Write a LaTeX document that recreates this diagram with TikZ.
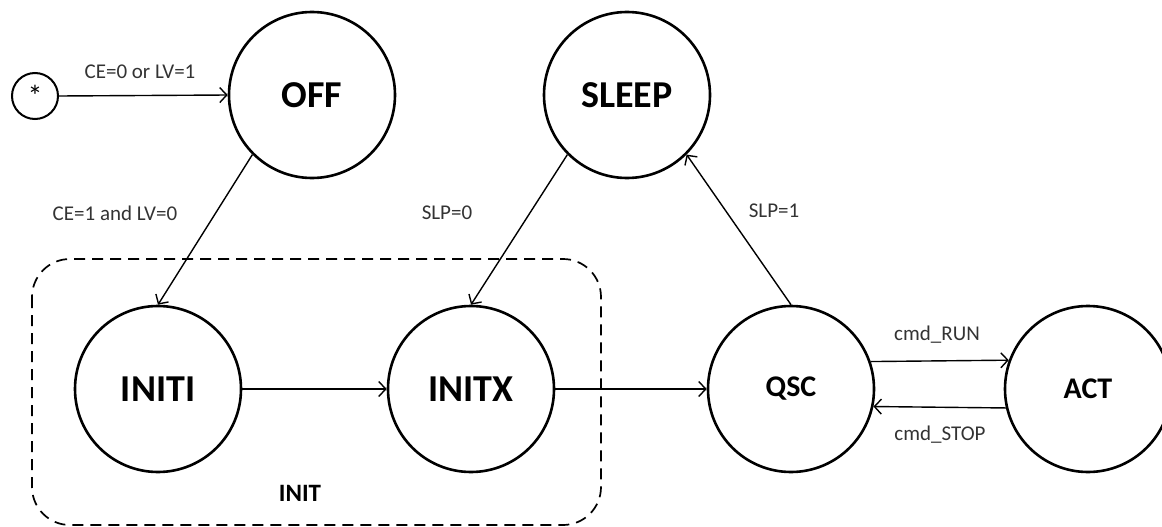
\documentclass[tikz,border=0pt]{standalone}
\usepackage{fontspec}
\setmainfont{Carlito}
\usetikzlibrary{arrows.meta}
\begin{document}
\begin{tikzpicture}[x=1pt,y=-1pt,
  state/.style={circle,draw=black,line width=2.6pt,minimum size=166pt,inner sep=0pt,
    font=\fontsize{38}{40}\selectfont\bfseries},
  smallstate/.style={state,font=\fontsize{30}{32}\selectfont\bfseries},
  startstate/.style={circle,draw=black,line width=2pt,minimum size=46pt,inner sep=0pt,
    font=\fontsize{30}{30}\selectfont},
  lbl/.style={inner sep=0pt,text=black!80,font=\fontsize{21}{24}\selectfont},
  trans/.style={line width=1.4pt,-{Straight Barb[length=7pt,width=15pt,line width=1.4pt]}},
  group/.style={draw=black,line width=1.7pt,dash pattern=on 11pt off 7pt,rounded corners=38pt}]
\useasboundingbox (0,0) rectangle (1162,527);
% group box
\draw[group] (32,259) rectangle (601,525);
\node[inner sep=0pt,font=\fontsize{25}{28}\selectfont\bfseries] (initlbl) at (300,493) {INIT};
% states
\node[startstate] (star) at (35,96) {\raisebox{-6pt}{*}};
\node[state] (off) at (312,95) {OFF};
\node[state] (sleep) at (627,95) {SLEEP};
\node[state] (initi) at (158,389) {INITI};
\node[state] (initx) at (471,389) {INITX};
\node[smallstate] (qsc) at (791,389) {QSC};
\node[smallstate] (act) at (1088,389) {ACT};
% transitions
\draw[trans] (star.east) -- (off.west);
\draw[trans] (off.225) -- (initi.north);
\draw[trans] (sleep.225) -- (initx.north);
\draw[trans] (qsc.north) -- (sleep.-45);
\draw[trans] (initi.east) -- (initx.west);
\draw[trans] (initx.east) -- (qsc.west);
\draw[trans] (qsc.19.7) -- (act.160.3);
\draw[trans] (act.-167.5) -- (qsc.-12.5);
% labels
\node[lbl] (l1) at (140,72) {CE=0 or LV=1};
\node[lbl] (l2) at (115,213) {CE=1 and LV=0};
\node[lbl] (l3) at (447,213) {SLP=0};
\node[lbl] (l4) at (774,211) {SLP=1};
\node[lbl] (l5) at (937,335) {cmd\_RUN};
\node[lbl] (l6) at (940,435) {cmd\_STOP};
\end{tikzpicture}
\end{document}
